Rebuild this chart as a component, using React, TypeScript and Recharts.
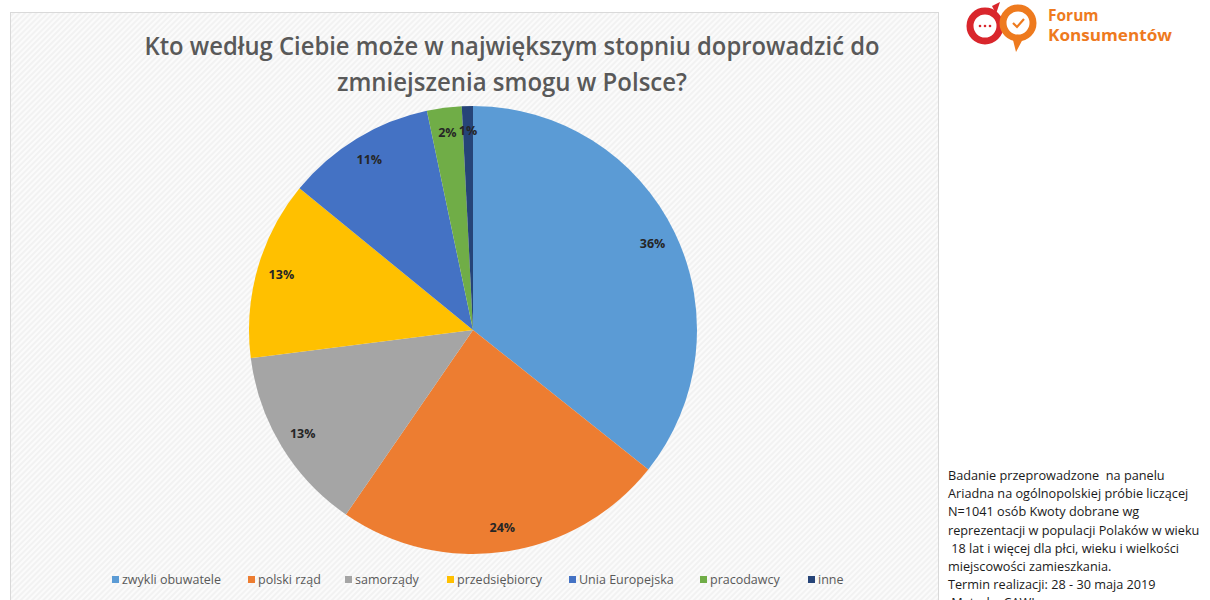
import React from "react";
import { PieChart, Pie, Cell, Legend } from "recharts";

const categories = ["zwykli obuwatele", "polski rząd", "samorządy", "przedsiębiorcy", "Unia Europejska", "pracodawcy", "inne"];
const values = [35.7, 23.9, 13.4, 12.9, 10.8, 2.5, 0.8];
const valueLabels = ["36%", "24%", "13%", "13%", "11%", "2%", "1%"];
const colors = ["#5B9BD5", "#ED7D31", "#A5A5A5", "#FFC000", "#4472C4", "#70AD47", "#264478"];

const titleLines = ["Kto według Ciebie może w największym stopniu doprowadzić do", "zmniejszenia smogu w Polsce?"];
const noteLines = [
  "Badanie przeprowadzone  na panelu",
  "Ariadna na ogólnopolskiej próbie liczącej",
  "N=1041 osób Kwoty dobrane wg",
  "reprezentacji w populacji Polaków w wieku",
  " 18 lat i więcej dla płci, wieku i wielkości",
  "miejscowości zamieszkania.",
  "Termin realizacji: 28 - 30 maja 2019",
  " Metoda: CAWI",
];

const data = categories.map((name, i) => ({ name, value: values[i], label: valueLabels[i] }));

const RAD = Math.PI / 180;
const renderLabel = (p: any) => {
  const { cx, cy, midAngle, outerRadius, index } = p;
  const r = outerRadius * 0.89;
  const x = cx + r * Math.cos(-midAngle * RAD);
  const y = cy + r * Math.sin(-midAngle * RAD);
  return (
    <text x={x} y={y} textAnchor="middle" dominantBaseline="central" fill="#262626" fontSize={12.5} fontWeight="bold" fontFamily="'Open Sans', sans-serif">
      {data[index].label}
    </text>
  );
};

const legendWidths = [136, 97, 102, 122, 131, 108, 60];

const renderLegend = () => (
  <div style={{ display: "flex", fontFamily: "'Open Sans', sans-serif", fontSize: 12.5, color: "#595959" }}>
    {categories.map((c, i) => (
      <div key={c} style={{ display: "flex", alignItems: "center", width: legendWidths[i], whiteSpace: "nowrap" }}>
        <span style={{ display: "inline-block", width: 7, height: 7, background: colors[i], marginRight: 3 }} />
        <span>{c}</span>
      </div>
    ))}
  </div>
);

export default function App() {
  return (
    <div style={{ position: "absolute", left: 0, top: 0, width: 1210, height: 600, background: "#fff", overflow: "hidden" }}>
      <svg width={1210} height={600} style={{ position: "absolute", left: 0, top: 0 }}>
        <defs>
          <pattern id="diag" width="4" height="4" patternUnits="userSpaceOnUse" patternTransform="rotate(45)">
            <rect width="4" height="4" fill="#f2f2f2" />
            <rect width="2" height="4" fill="#fbfbfb" />
          </pattern>
        </defs>
        <rect x={10.5} y={12.5} width={928} height={600} fill="url(#diag)" stroke="#d9d9d9" />
      </svg>
      <div style={{ position: "absolute", left: 10, top: 12 }}>
        <PieChart width={928} height={588} margin={{ top: 0, left: 0, right: 0, bottom: 0 }}>
          <Pie
            data={data}
            dataKey="value"
            nameKey="name"
            cx={463}
            cy={318}
            outerRadius={224}
            startAngle={90}
            endAngle={-270}
            stroke="none"
            label={renderLabel}
            labelLine={false}
            isAnimationActive={false}
          >
            {data.map((d, i) => (
              <Cell key={d.name} fill={colors[i]} />
            ))}
          </Pie>
          <Legend
            content={renderLegend}
            wrapperStyle={{ position: "absolute", left: 102, top: 559, width: 800 }}
          />
        </PieChart>
      </div>
      <svg width={1210} height={600} style={{ position: "absolute", left: 0, top: 0, pointerEvents: "none" }}>
        <text x={512} y={55} textAnchor="middle" fill="#595959" fontSize={25} fontWeight={600} fontFamily="'Open Sans', sans-serif" textLength={735} lengthAdjust="spacingAndGlyphs">
          {titleLines[0]}
        </text>
        <text x={512} y={91} textAnchor="middle" fill="#595959" fontSize={25} fontWeight={600} fontFamily="'Open Sans', sans-serif" textLength={350} lengthAdjust="spacingAndGlyphs">
          {titleLines[1]}
        </text>
        {/* logo */}
        <g>
          <circle cx={985} cy={26} r={15} fill="none" stroke="#D9262C" strokeWidth={7} />
          <path d="M992 6 L1000 2 L996 14 Z" fill="#D9262C" />
          <circle cx={1018} cy={23} r={15} fill="none" stroke="#EE7A1E" strokeWidth={7} />
          <path d="M1012 36 L1016 52 L1024 37 Z" fill="#EE7A1E" />
          <circle cx={980} cy={26} r={1.3} fill="#D9262C" />
          <circle cx={985} cy={26} r={1.3} fill="#D9262C" />
          <circle cx={990} cy={26} r={1.3} fill="#D9262C" />
          <path d="M1013 23 L1017 27 L1024 19" fill="none" stroke="#EE7A1E" strokeWidth={2.2} />
          <text x={1048} y={21} fill="#EE7A1E" fontSize={15.5} fontWeight="bold" fontFamily="'Open Sans', sans-serif">Forum</text>
          <text x={1048} y={41} fill="#EE7A1E" fontSize={15.5} fontWeight="bold" fontFamily="'Open Sans', sans-serif" textLength={124} lengthAdjust="spacingAndGlyphs">Konsumentów</text>
        </g>
        {noteLines.map((l, i) => (
          <text key={i} x={948} y={480 + i * 18.2} fill="#1a1a1a" fontSize={12.7} fontFamily="'Open Sans', sans-serif" style={{ whiteSpace: "pre" }}>
            {l}
          </text>
        ))}
      </svg>
    </div>
  );
}
